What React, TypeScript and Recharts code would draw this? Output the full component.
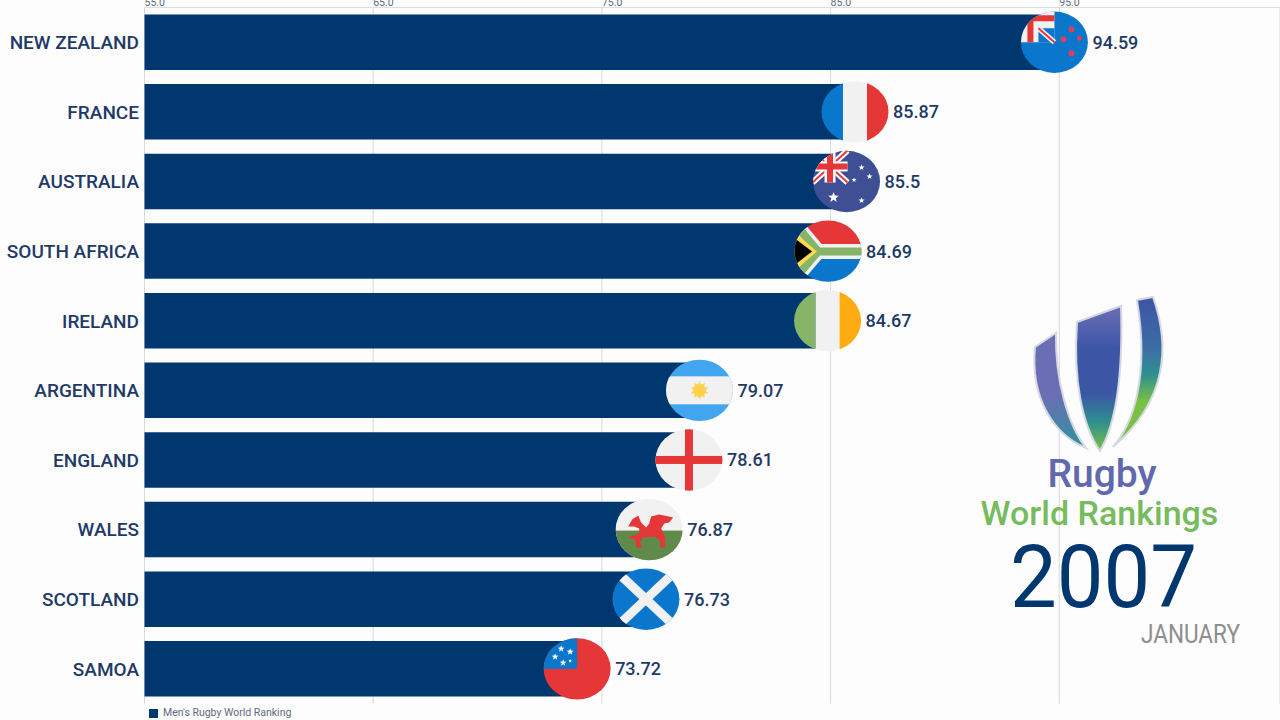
import { BarChart, Bar, XAxis, YAxis, CartesianGrid, Legend, LabelList } from "recharts";

const COUNTRIES = [
  "NEW ZEALAND", "FRANCE", "AUSTRALIA", "SOUTH AFRICA", "IRELAND",
  "ARGENTINA", "ENGLAND", "WALES", "SCOTLAND", "SAMOA",
];
const RATINGS = [94.59, 85.87, 85.5, 84.69, 84.67, 79.07, 78.61, 76.87, 76.73, 73.72];
const X_TICKS = [55, 65, 75, 85, 95];
const SERIES_NAME = "Men's Rugby World Ranking";

const NAVY = "#00376f";
const INK = "#1f3a66";
const RED = "#e53638";
const BLUE = "#0b77cc";
const PALE = "#f1f1f1";

const chartData = COUNTRIES.map((country, i) => ({ country, rating: RATINGS[i] }));

// five pointed star around a centre, for the flags
function Star({ x, y, r, fill = "#fff" }: { x: number; y: number; r: number; fill?: string }) {
  const pts: string[] = [];
  for (let i = 0; i < 10; i++) {
    const rad = i % 2 === 0 ? r : r * 0.42;
    const a = -Math.PI / 2 + (i * Math.PI) / 5;
    pts.push(`${x + rad * Math.cos(a)},${y + rad * Math.sin(a)}`);
  }
  return <polygon points={pts.join(" ")} fill={fill} />;
}

function flagContent(country: string) {
  switch (country) {
    case "NEW ZEALAND":
      return (
        <>
          <rect x={-34} y={-32} width={68} height={64} fill={BLUE} />
          <rect x={-34} y={-32} width={34} height={32} fill={PALE} />
          <rect x={-25} y={-27} width={25} height={6} fill={RED} />
          <rect x={-27} y={-27} width={6} height={27} fill={RED} />
          <rect x={-16} y={-14} width={16} height={14} fill={BLUE} />
          <line x1={-16} y1={-14} x2={0} y2={0} stroke={PALE} strokeWidth={5} />
          <line x1={-16} y1={-14} x2={0} y2={0} stroke={RED} strokeWidth={2} />
          <circle cx={17} cy={-13} r={3} fill="#d6435f" />
          <circle cx={9} cy={-3} r={3} fill="#d6435f" />
          <circle cx={25} cy={-4} r={2.4} fill="#d6435f" />
          <circle cx={17} cy={11} r={3} fill="#d6435f" />
        </>
      );
    case "FRANCE":
      return (
        <>
          <rect x={-34} y={-32} width={22} height={64} fill={BLUE} />
          <rect x={-12} y={-32} width={24} height={64} fill={PALE} />
          <rect x={12} y={-32} width={22} height={64} fill={RED} />
        </>
      );
    case "AUSTRALIA":
      return (
        <>
          <rect x={-34} y={-32} width={68} height={64} fill="#3f4f95" />
          <line x1={-34} y1={-31} x2={1} y2={1} stroke="#fff" strokeWidth={6} />
          <line x1={-34} y1={1} x2={1} y2={-31} stroke="#fff" strokeWidth={6} />
          <line x1={-34} y1={-31} x2={1} y2={1} stroke={RED} strokeWidth={2} />
          <line x1={-34} y1={1} x2={1} y2={-31} stroke={RED} strokeWidth={2} />
          <rect x={-34} y={-20} width={35} height={10} fill="#fff" />
          <rect x={-22} y={-32} width={11} height={33} fill="#fff" />
          <rect x={-34} y={-18} width={35} height={6} fill={RED} />
          <rect x={-19.5} y={-32} width={6} height={33} fill={RED} />
          <Star x={-13} y={16} r={5.5} />
          <Star x={15} y={-14} r={3.2} />
          <Star x={23} y={-5} r={3.2} />
          <Star x={7.5} y={-1.5} r={2.6} />
          <Star x={15} y={19} r={3.2} />
        </>
      );
    case "SOUTH AFRICA":
      return (
        <>
          <rect x={-34} y={-32} width={68} height={32} fill={RED} />
          <rect x={-34} y={0} width={68} height={32} fill={BLUE} />
          <polyline points="-42,-38 -10,0.3 40,0.3" fill="none" stroke={PALE} strokeWidth={15} />
          <polyline points="-42,38 -10,0.3" fill="none" stroke={PALE} strokeWidth={15} />
          <polyline points="-42,-38 -10,0.3 40,0.3" fill="none" stroke="#86b56a" strokeWidth={8} />
          <polyline points="-42,38 -10,0.3" fill="none" stroke="#86b56a" strokeWidth={8} />
          <polygon points="-36,-21 -11,0.3 -36,22" fill="#ffd84d" />
          <polygon points="-36,-15 -16,0.3 -36,16" fill="#000" />
        </>
      );
    case "IRELAND":
      return (
        <>
          <rect x={-34} y={-32} width={22} height={64} fill="#86b56a" />
          <rect x={-12} y={-32} width={24} height={64} fill={PALE} />
          <rect x={12} y={-32} width={22} height={64} fill="#ffab12" />
        </>
      );
    case "ARGENTINA":
      return (
        <>
          <rect x={-34} y={-32} width={68} height={64} fill="#42a5f0" />
          <rect x={-34} y={-14} width={68} height={28} fill={PALE} />
          <Star x={0} y={0} r={9.5} fill="#ffd24d" />
          <Star x={0} y={0} r={-9.5} fill="#ffd24d" />
          <circle cx={0} cy={0} r={6.5} fill="#ffd24d" />
        </>
      );
    case "ENGLAND":
      return (
        <>
          <rect x={-34} y={-32} width={68} height={64} fill={PALE} />
          <rect x={-34} y={-4} width={68} height={8} fill={RED} />
          <rect x={-4} y={-32} width={8} height={64} fill={RED} />
        </>
      );
    case "WALES":
      return (
        <>
          <rect x={-34} y={-32} width={68} height={64} fill={PALE} />
          <rect x={-34} y={1} width={68} height={31} fill="#5f8a4a" />
          <path
            d="M-21,-3 L-17,-10 L-11,-14 L-8,-7 L-3,-2 L0,-6 L2,-13 L10,-15 L24,-12 L20,-7 L15,-6 L12,-1 L14,3 L16,8 L16,18 L11,18 L11,11 L5,7 L-7,8 L-9,13 L-7,18 L-13,18 L-14,10 L-22,8 L-10,4 L-10,-1 L-15,-3 Z"
            fill={RED}
          />
        </>
      );
    case "SCOTLAND":
      return (
        <>
          <rect x={-34} y={-32} width={68} height={64} fill={BLUE} />
          <line x1={-34} y1={-32} x2={34} y2={32} stroke={PALE} strokeWidth={9} />
          <line x1={-34} y1={32} x2={34} y2={-32} stroke={PALE} strokeWidth={9} />
        </>
      );
    default:
      return (
        <>
          <rect x={-34} y={-32} width={68} height={64} fill={RED} />
          <rect x={-34} y={-32} width={34} height={32} fill={BLUE} />
          <Star x={-16} y={-20} r={3.6} />
          <Star x={-7} y={-17} r={3.6} />
          <Star x={-22} y={-12} r={3.6} />
          <Star x={-14} y={-6} r={3.6} />
          <Star x={-7} y={-8} r={2} />
        </>
      );
  }
}

// flag badge and value text sit at the end of each bar
function renderFlag(props: any) {
  const { x, y, width, height, value, index } = props;
  const cx = x + width + 4.5;
  const cy = y + height / 2;
  const id = `flag-clip-${index}`;
  return (
    <g key={id}>
      <g transform={`translate(${cx},${cy})`}>
        <clipPath id={id}>
          <ellipse cx={0} cy={0} rx={33.5} ry={30.7} />
        </clipPath>
        <g clipPath={`url(#${id})`}>{flagContent(COUNTRIES[index])}</g>
      </g>
      <text
        x={cx + 38}
        y={cy + 6.5}
        fill={INK}
        fontFamily="Roboto"
        fontWeight={500}
        fontSize={18}
      >
        {value}
      </text>
    </g>
  );
}

function renderXTick(props: any) {
  const { x, payload } = props;
  return (
    <text x={x} y={6} fill="#5d6b82" fontFamily="Roboto" fontSize={10.5}>
      {payload.value.toFixed(1)}
    </text>
  );
}

export default function App() {
  return (
    <div style={{ position: "relative", width: 1280, height: 720, overflow: "hidden", background: "#fdfdfd" }}>
      <style>{"body{margin:0;overflow:hidden}"}</style>
      <BarChart
        layout="vertical"
        width={1280}
        height={720}
        data={chartData}
        margin={{ top: 6.5, right: 0, bottom: 3.3, left: 0 }}
        barSize={55.5}
      >
        <CartesianGrid horizontal={false} stroke="#d8d8d8" />
        <XAxis
          type="number"
          orientation="top"
          domain={[55, 104.65]}
          ticks={X_TICKS}
          height={1}
          tick={renderXTick}
          tickLine={false}
          axisLine={{ stroke: "#dedede" }}
        />
        <YAxis
          type="category"
          dataKey="country"
          width={144.5}
          interval={0}
          tickLine={false}
          axisLine={false}
          tickSize={0}
          tickMargin={5.5}
          tick={{ fill: INK, fontFamily: "Roboto", fontWeight: 500, fontSize: 19 }}
        />
        <Legend
          verticalAlign="bottom"
          align="left"
          iconType="square"
          iconSize={9}
          wrapperStyle={{ left: 149, bottom: 1, fontFamily: "Roboto", fontSize: 10.5 }}
          formatter={(v: string) => <span style={{ color: "#5d6b82", marginLeft: 1 }}>{v}</span>}
        />
        <Bar dataKey="rating" name={SERIES_NAME} fill={NAVY} isAnimationActive={false}>
          <LabelList dataKey="rating" content={renderFlag} />
        </Bar>
      </BarChart>

      <svg width={1280} height={720} style={{ position: "absolute", left: 0, top: 0 }}>
        <defs>
          <linearGradient id="bladeLeft" x1="0" y1="0" x2="0" y2="1">
            <stop offset="0.55" stopColor="#6a6fb5" />
            <stop offset="1" stopColor="#2c93a0" />
          </linearGradient>
          <linearGradient id="bladeMid" x1="0" y1="0" x2="0" y2="1">
            <stop offset="0" stopColor="#6a6fb5" />
            <stop offset="0.3" stopColor="#3c55a5" />
            <stop offset="0.6" stopColor="#3c55a5" />
            <stop offset="0.8" stopColor="#2f9090" />
            <stop offset="1" stopColor="#7ac143" />
          </linearGradient>
          <linearGradient id="bladeRight" x1="0" y1="0" x2="0" y2="1">
            <stop offset="0" stopColor="#3c55a5" />
            <stop offset="0.35" stopColor="#3c6ea5" />
            <stop offset="0.52" stopColor="#2f9090" />
            <stop offset="0.7" stopColor="#7ac143" />
            <stop offset="1" stopColor="#7ac143" />
          </linearGradient>
        </defs>
        <g stroke="#d5d8e0" strokeWidth={2}>
          <path d="M1035,347 L1056,333 C1055,380 1068,425 1086,448 C1055,435 1030,400 1035,347 Z" fill="url(#bladeLeft)" />
          <path d="M1077,322 L1121,306 C1123,370 1118,420 1100,451 C1082,425 1073,380 1077,322 Z" fill="url(#bladeMid)" />
          <path d="M1137,300 L1153,297 C1170,345 1168,400 1113,447 C1132,425 1150,380 1137,300 Z" fill="url(#bladeRight)" />
        </g>
        <text x={1102} y={487} textAnchor="middle" fill="#6268ae" fontFamily="Roboto" fontWeight={500} fontSize={39}>
          Rugby
        </text>
        <text x={1099.5} y={525} textAnchor="middle" fill="#76bb5c" fontFamily="Roboto" fontWeight={500} fontSize={34}>
          World Rankings
        </text>
        <text x={1010} y={607} fill={NAVY} fontFamily="Roboto" fontSize={88} textLength={187} lengthAdjust="spacingAndGlyphs">
          2007
        </text>
        <text x={1141} y={643} fill="#8e8e8e" fontFamily="Roboto" fontSize={26} textLength={99} lengthAdjust="spacingAndGlyphs">
          JANUARY
        </text>
      </svg>
    </div>
  );
}
